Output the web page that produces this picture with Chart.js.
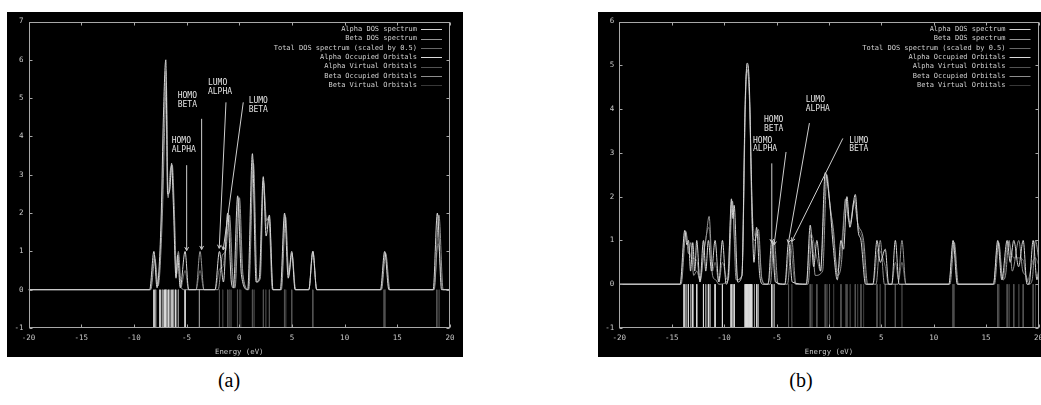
<!DOCTYPE html>
<html>
<head>
<meta charset="utf-8">
<script src="https://cdn.jsdelivr.net/npm/chart.js@4.4.0/dist/chart.umd.min.js"></script>
<style>
  html, body { margin: 0; padding: 0; background: #fff; }
  body { width: 1041px; height: 405px; overflow: hidden; position: relative; }
  canvas { position: absolute; background: #000; }
  #dosA { left: 7px; top: 12px; }
  #dosB { left: 598px; top: 12px; }
  .cap { position: absolute; top: 369px; width: 60px; text-align: center;
         font: 20px "Liberation Serif", "Times New Roman", serif; color: #000; }
</style>
</head>
<body>
<canvas id="dosA" width="456" height="345"></canvas>
<canvas id="dosB" width="460" height="345"></canvas>
<div class="cap" style="left:199px">(a)</div>
<div class="cap" style="left:771px">(b)</div>
<script>
var seriesLabels = ['Alpha DOS spectrum', 'Beta DOS spectrum', 'Total DOS spectrum (scaled by 0.5)',
  'Alpha Occupied Orbitals', 'Alpha Virtual Orbitals', 'Beta Occupied Orbitals', 'Beta Virtual Orbitals'];
var seriesColors = ['#d6d6d6', '#969696', '#686868', '#dcdcdc', '#545454', '#8e8e8e', '#383838'];
var noteText = [['HOMO', 'ALPHA'], ['HOMO', 'BETA'], ['LUMO', 'ALPHA'], ['LUMO', 'BETA']];

// ---- panel (a) : [energy, dos]
var alphaDosA = [[-20,0],[-8.5,0],[-8.1,1.0],[-7.8,0.05],[-7.6,0.6],[-7.4,2.0],[-7.2,4.5],[-6.97,6.0],[-6.8,2.5],
  [-6.6,2.6],[-6.42,3.3],[-6.25,2.2],[-6.0,0.3],[-5.85,0.9],[-5.6,0.05],[-5.14,1.0],[-4.8,0],[-2.3,0],[-1.88,1.0],
  [-1.5,0.2],[-1.1,2.0],[-0.75,0.2],[-0.55,0.05],[-0.15,2.45],[0.2,0.4],[0.8,0],[1.25,3.55],[1.6,0.2],[1.9,0.3],
  [2.28,2.95],[2.55,1.4],[2.86,1.95],[3.2,0],[3.9,0],[4.3,2.0],[4.65,0.3],[4.98,1.0],[5.3,0],[6.6,0],[6.98,1.0],
  [7.35,0],[13.4,0],[13.8,1.0],[14.2,0],[18.4,0],[18.8,2.0],[19.2,0],[20,0]];
var betaDosA = [[-20,0],[-8.4,0],[-8.0,0.8],[-7.7,0.1],[-7.3,1.9],[-7.1,4.0],[-6.92,5.4],[-6.75,2.4],[-6.55,3.1],
  [-6.35,3.25],[-6.15,2.0],[-5.95,0.4],[-5.78,1.0],[-5.5,0.05],[-5.2,0],[-4.1,0],[-3.72,1.0],[-3.35,0],[-2.0,0],
  [-1.6,0.9],[-1.3,1.0],[-0.93,1.95],[-0.6,0.3],[-0.4,0.05],[0.02,2.4],[0.35,0.4],[0.9,0],[1.35,3.3],[1.7,0.2],
  [2.0,0.3],[2.3,2.8],[2.6,1.8],[2.8,1.9],[3.15,0],[4.0,0],[4.4,1.9],[4.7,0.4],[5.0,0.95],[5.35,0],[6.6,0],
  [7.0,1.0],[7.35,0],[13.5,0],[13.9,0.95],[14.3,0],[18.5,0],[18.95,1.95],[19.35,0],[20,0]];
var totalDosA = [[-20,0],[-8.45,0],[-8.05,0.9],[-7.75,0.1],[-7.35,1.95],[-7.15,4.2],[-6.95,5.7],[-6.78,2.45],
  [-6.5,2.9],[-6.4,3.25],[-6.2,2.1],[-5.98,0.35],[-5.8,0.95],[-5.55,0.05],[-5.14,0.5],[-4.8,0],[-4.1,0],
  [-3.72,0.5],[-3.35,0],[-2.3,0],[-1.85,0.55],[-1.55,0.6],[-1.0,1.95],[-0.65,0.25],[-0.45,0.05],[-0.08,2.4],
  [0.3,0.4],[0.85,0],[1.3,3.4],[1.65,0.2],[1.95,0.3],[2.3,2.85],[2.6,1.6],[2.85,1.9],[3.2,0],[3.95,0],[4.35,1.95],
  [4.7,0.35],[5.0,0.95],[5.32,0],[6.6,0],[6.98,1.0],[7.35,0],[13.45,0],[13.85,0.97],[14.25,0],[18.45,0],
  [18.88,1.2],[19.3,0],[20,0]];
var alphaOccA = [-8.09, -7.52, -7.12, -6.99, -6.74, -6.38, -6.03, -5.14];
var alphaVirtA = [-1.88, -1.09, -0.17, 1.25, 2.29, 2.86, 4.29, 4.98, 6.98, 13.75, 18.75];
var betaOccA = [-7.93, -7.30, -6.90, -6.58, -6.22, -5.78, -3.78];
var betaVirtA = [-1.57, -0.93, -0.78, 0.02, 0.14, 1.41, 2.52, 4.41, 13.87, 18.97];
var notePosA = [[-6.41, 3.95], [-5.84, 5.14], [-2.97, 5.48], [0.89, 5.01]];
var arrowsA = [[-4.99, 3.25, -4.99, 1.02], [-3.57, 4.46, -3.57, 1.05], [-1.26, 4.89, -1.9, 1.08], [0.38, 4.89, -1.52, 1.04]];

// ---- panel (b)
var alphaDosB = [[-20,0],[-14.2,0],[-13.75,1.23],[-13.55,0.9],[-13.4,1.0],[-13.2,0.3],[-12.99,0.95],[-12.8,0.3],
  [-12.61,1.0],[-12.3,0.05],[-11.97,1.0],[-11.75,0.3],[-11.5,1.0],[-11.2,0.3],[-10.86,1.0],[-10.5,0.05],
  [-10.16,1.0],[-9.8,0],[-9.6,0.2],[-9.3,1.95],[-9.15,1.5],[-9.04,1.8],[-8.7,0.05],[-8.3,0.2],[-8.0,4.0],
  [-7.8,5.05],[-7.6,4.6],[-7.4,2.5],[-7.15,0.5],[-6.9,1.3],[-6.6,0.2],[-6.3,0],[-5.8,0],[-5.45,1.0],[-5.1,0.05],
  [-4.2,0],[-3.85,0.95],[-3.5,0.05],[-2.15,0],[-1.78,1.35],[-1.45,0.4],[-1.15,1.0],[-0.8,0.3],[-0.35,2.55],
  [0.06,1.9],[0.4,0.9],[0.8,0.1],[1.15,1.0],[1.4,0.8],[1.72,2.0],[2.0,1.3],[2.52,2.05],[2.8,1.2],[3.06,1.0],
  [3.5,0],[4.2,0],[4.59,1.0],[4.9,0.5],[5.38,0.8],[5.7,0],[6.0,0],[6.34,1.0],[6.7,0],[11.45,0],[11.85,1.0],
  [12.25,0],[15.7,0],[16.11,1.0],[16.5,0.1],[17.01,1.0],[17.3,0.5],[17.64,1.0],[18.1,0.4],[18.54,1.0],[18.9,0],
  [19.1,0],[19.49,1.0],[19.85,0.1],[20,0.3]];
var betaDosB = [[-20,0],[-14.1,0],[-13.63,1.2],[-13.4,0.7],[-13.18,0.95],[-12.9,0.2],[-12.6,0.3],[-12.3,0.1],
  [-11.9,0.8],[-11.75,1.0],[-11.43,1.55],[-11.1,0.2],[-10.8,0.1],[-10.5,0],[-9.6,0.1],[-9.2,1.9],[-8.85,0.1],
  [-8.3,0.2],[-7.95,4.5],[-7.8,4.9],[-7.55,4.0],[-7.3,1.2],[-7.1,1.0],[-6.72,1.25],[-6.4,0.1],[-6.0,0],[-5.6,0],
  [-5.22,1.0],[-4.85,0],[-3.95,0],[-3.54,1.0],[-3.15,0],[-2.0,0],[-1.62,1.0],[-1.3,0.2],[-0.6,0.3],[-0.19,2.5],
  [0.1,1.8],[0.45,1.2],[0.8,0.2],[1.2,0.5],[1.59,1.95],[1.85,1.5],[2.04,1.4],[2.4,1.9],[2.74,1.4],[3.31,1.0],
  [3.7,0],[4.5,0],[4.9,1.0],[5.3,0],[6.6,0],[6.97,1.0],[7.35,0],[11.55,0],[11.97,0.95],[12.35,0],[15.8,0],
  [16.21,0.95],[16.6,0.1],[16.85,0.2],[17.2,1.0],[17.5,0.3],[18.12,1.0],[18.5,0.3],[18.8,0.2],[19.1,0],
  [19.4,0.1],[19.71,1.0],[20,0.6]];
var totalDosB = [[-20,0],[-14.15,0],[-13.7,1.2],[-13.4,0.85],[-13.1,0.6],[-12.61,0.55],[-12.3,0.05],[-11.85,0.9],
  [-11.45,1.3],[-11.1,0.3],[-10.86,0.5],[-10.5,0.05],[-10.16,0.5],[-9.7,0.1],[-9.25,1.9],[-9.0,1.0],[-8.7,0.1],
  [-8.3,0.2],[-7.95,4.2],[-7.8,5.0],[-7.58,4.3],[-7.35,1.9],[-7.0,1.1],[-6.8,1.2],[-6.4,0.15],[-6.0,0],[-5.7,0.1],
  [-5.35,0.95],[-5.0,0.05],[-4.2,0],[-3.7,0.9],[-3.2,0],[-2.15,0],[-1.7,1.15],[-1.15,0.6],[-0.8,0.3],[-0.27,2.5],
  [0.1,1.85],[0.45,1.05],[0.85,0.3],[1.15,0.75],[1.65,1.95],[2.0,1.35],[2.5,1.95],[2.8,1.3],[3.2,1.0],[3.6,0],
  [4.2,0],[4.7,0.8],[5.0,0.7],[5.38,0.4],[5.7,0],[6.0,0],[6.34,0.5],[6.65,0.1],[6.97,0.5],[7.35,0],[11.45,0],
  [11.9,0.97],[12.3,0],[15.7,0],[16.15,0.97],[16.6,0.1],[17.1,0.97],[17.64,0.6],[18.12,0.6],[18.54,0.55],
  [18.9,0.05],[19.49,0.55],[19.71,0.6],[20,0.45]];
var alphaOccB = [-13.82, -13.41, -12.99, -12.61, -11.97, -11.50, -10.86, -10.16, -9.33, -9.04, -7.99, -7.87,
  -7.74, -7.61, -7.48, -7.36, -6.88, -5.45];
var alphaVirtB = [-3.85, -1.78, -1.15, -0.35, 0.06, 1.15, 1.72, 2.52, 3.06, 4.59, 5.38, 6.34, 11.85, 16.11,
  17.01, 17.64, 18.54, 19.49];
var betaOccB = [-13.63, -13.18, -11.75, -11.34, -9.20, -7.95, -7.80, -7.68, -7.55, -7.42, -7.10, -6.72, -5.22];
var betaVirtB = [-3.54, -1.62, -0.19, 0.45, 1.59, 2.04, 2.74, 3.31, 4.90, 6.97, 11.97, 16.21, 17.20, 18.12, 19.71];
var notePosB = [[-7.24, 3.35], [-6.19, 3.82], [-2.21, 4.27], [1.93, 3.35]];
var arrowsB = [[-5.45, 2.76, -5.45, 0.95], [-4.09, 3.02, -5.23, 0.9], [-1.86, 3.68, -3.87, 0.94], [1.33, 3.33, -3.54, 0.98]];

function toXY(pairs) {
  return pairs.map(function (p) { return { x: p[0], y: p[1] }; });
}
function sticks(energies) {
  var out = [];
  energies.forEach(function (e) {
    out.push({ x: e, y: 0 }, { x: e, y: -1 }, { x: e, y: null });
  });
  return out;
}

var decor = {
  id: 'decor',
  afterDatasetsDraw: function (chart, args, opts) {
    var ctx = chart.ctx, a = chart.chartArea, x = chart.scales.x, y = chart.scales.y;
    ctx.save();
    ctx.strokeStyle = '#a8a8a8';
    ctx.lineWidth = 1;
    function seg(x1, y1, x2, y2) { ctx.beginPath(); ctx.moveTo(x1, y1); ctx.lineTo(x2, y2); ctx.stroke(); }
    var L = Math.round(a.left) + 0.5, R = Math.round(a.right) - 0.5, T = Math.round(a.top) + 0.5, B = Math.round(a.bottom) - 0.5;
    ctx.strokeRect(L, T, R - L, B - T);
    x.ticks.forEach(function (t) {
      var px = Math.round(x.getPixelForValue(t.value)) + 0.5;
      seg(px, B, px, B - 3); seg(px, T, px, T + 3);
    });
    y.ticks.forEach(function (t) {
      var py = Math.round(y.getPixelForValue(t.value)) + 0.5;
      seg(L, py, L + 3, py); seg(R, py, R - 3, py);
    });

    // annotations
    ctx.strokeStyle = '#cfcfcf';
    ctx.fillStyle = '#e4e4e4';
    ctx.font = '8px "DejaVu Sans Mono", monospace';
    ctx.textBaseline = 'top';
    ctx.textAlign = 'left';
    opts.arrows.forEach(function (ar) {
      var x1 = x.getPixelForValue(ar[0]), y1 = y.getPixelForValue(ar[1]);
      var x2 = x.getPixelForValue(ar[2]), y2 = y.getPixelForValue(ar[3]);
      seg(x1, y1, x2, y2);
      var ang = Math.atan2(y2 - y1, x2 - x1);
      [0.5, -0.5].forEach(function (d) {
        seg(x2, y2, x2 - 4 * Math.cos(ang + d), y2 - 4 * Math.sin(ang + d));
      });
    });
    opts.notes.forEach(function (p, i) {
      var px = x.getPixelForValue(p[0]), py = y.getPixelForValue(p[1]) - 1;
      noteText[i].forEach(function (line, k) { ctx.fillText(line, px, py + k * 8.7); });
    });

    // legend
    ctx.font = '7px "DejaVu Sans Mono", monospace';
    ctx.textAlign = 'right';
    ctx.textBaseline = 'middle';
    chart.data.datasets.forEach(function (ds, i) {
      var ly = a.top + 7.7 + i * 9.33;
      ctx.fillStyle = '#d0d0d0';
      ctx.fillText(ds.label, a.right - 33, ly);
      ctx.strokeStyle = ds.borderColor;
      seg(a.right - 29, Math.round(ly) + 0.5, a.right - 8, Math.round(ly) + 0.5);
    });
    ctx.restore();
  }
};

function makeChart(id, spectra, orbitals, yMax, yWidth, rightPad, notes, arrows) {
  var datasets = [];
  spectra.concat(orbitals).forEach(function (data, i) {
    datasets.push({
      label: seriesLabels[i],
      data: data,
      borderColor: seriesColors[i],
      borderWidth: 1,
      pointRadius: 0,
      fill: false,
      spanGaps: false,
      cubicInterpolationMode: i < 3 ? 'monotone' : 'default',
      tension: 0
    });
  });
  return new Chart(document.getElementById(id), {
    type: 'line',
    data: { datasets: datasets },
    plugins: [decor],
    options: {
      responsive: false,
      animation: false,
      devicePixelRatio: 1,
      layout: { padding: { left: 0, top: 8, right: rightPad, bottom: 0 } },
      plugins: {
        legend: { display: false },
        tooltip: { enabled: false },
        decor: { notes: notes, arrows: arrows }
      },
      scales: {
        x: {
          type: 'linear', min: -20, max: 20,
          grid: { display: false, drawTicks: false },
          border: { display: false },
          ticks: { stepSize: 5, padding: 6, color: '#c8c8c8', font: { family: 'DejaVu Sans Mono', size: 7.5 }, maxRotation: 0 },
          title: { display: true, text: 'Energy (eV)', color: '#c8c8c8', padding: { top: 0, bottom: 1 },
                   font: { family: 'DejaVu Sans Mono', size: 7.3 } },
          afterFit: function (s) { s.height = 29; }
        },
        y: {
          min: -1, max: yMax,
          grid: { display: false, drawTicks: false },
          border: { display: false },
          ticks: { stepSize: 1, padding: 5, color: '#c8c8c8', font: { family: 'DejaVu Sans Mono', size: 7.5 } },
          afterFit: function (s) { s.width = yWidth; }
        }
      }
    }
  });
}

makeChart('dosA', [toXY(alphaDosA), toXY(betaDosA), toXY(totalDosA)],
  [sticks(alphaOccA), sticks(alphaVirtA), sticks(betaOccA), sticks(betaVirtA)], 7, 21.5, 13, notePosA, arrowsA);
makeChart('dosB', [toXY(alphaDosB), toXY(betaDosB), toXY(totalDosB)],
  [sticks(alphaOccB), sticks(alphaVirtB), sticks(betaOccB), sticks(betaVirtB)], 6, 21.3, 19.5, notePosB, arrowsB);
</script>
</body>
</html>
